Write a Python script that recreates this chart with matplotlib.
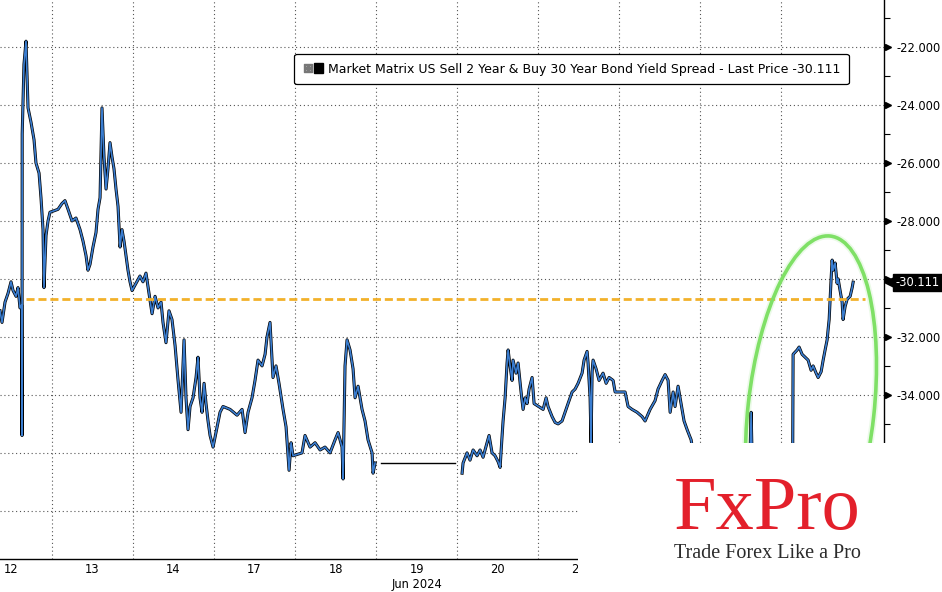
import matplotlib
matplotlib.use("Agg")
import matplotlib.pyplot as plt
import matplotlib.patheffects as pe
from matplotlib.patches import Ellipse, Rectangle, Patch
from matplotlib.lines import Line2D
from matplotlib.legend_handler import HandlerTuple
from matplotlib.transforms import IdentityTransform, blended_transform_factory
import numpy as np

# trading sessions shown on the axis (one unit of x per session)
day_labels = ["12", "13", "14", "17", "18", "19", "20", "21", "24", "25", "26"]
month_label = "Jun 2024"

# session position (session index + fraction of session) / spread, 12-18 Jun
t_a = [0.358, 0.383, 0.42, 0.457, 0.494, 0.519, 0.556, 0.58, 0.605, 0.625, 0.63, 0.632,
       0.654, 0.679, 0.704, 0.741, 0.778, 0.802, 0.84, 0.864, 0.889, 0.901, 0.926, 0.951,
       0.975, 1.074, 1.123, 1.16, 1.198, 1.247, 1.296, 1.346, 1.383, 1.42, 1.444, 1.469,
       1.506, 1.543, 1.568, 1.593, 1.605, 1.617, 1.642, 1.667, 1.691, 1.716, 1.741, 1.765,
       1.79, 1.815, 1.84, 1.864, 1.889, 1.914, 1.938, 1.963, 1.988,
       2.086, 2.123, 2.16, 2.198, 2.235, 2.272, 2.309, 2.346, 2.37, 2.407, 2.444, 2.481,
       2.519, 2.556, 2.593, 2.63, 2.654, 2.679, 2.704, 2.741, 2.778, 2.802, 2.827, 2.852,
       2.877, 2.901, 2.926, 2.951, 2.988,
       3.074, 3.111, 3.198, 3.284, 3.346, 3.383, 3.42, 3.469, 3.506, 3.543, 3.593, 3.63,
       3.654, 3.691, 3.728, 3.765, 3.802, 3.852, 3.889, 3.926, 3.951, 3.975,
       4.086, 4.123, 4.185, 4.247, 4.309, 4.37, 4.432, 4.494, 4.531, 4.58, 4.593, 4.617,
       4.642, 4.679, 4.716, 4.741, 4.778, 4.827, 4.864, 4.901, 4.951, 4.963, 4.988]
v_a = [-31.1, -31.5, -30.8, -30.5, -30.1, -30.4, -30.6, -30.3, -31.0, -30.9, -35.4, -25.0,
       -22.6, -21.8, -24.1, -24.6, -25.2, -26.0, -26.35, -27.2, -28.3, -30.3, -28.5, -28.0,
       -27.7, -27.6, -27.4, -27.3, -27.6, -28.0, -27.9, -28.3, -28.7, -29.2, -29.7, -29.5,
       -28.9, -28.4, -27.6, -27.2, -25.6, -24.1, -25.8, -26.9, -26.2, -25.3, -25.8, -26.2,
       -26.9, -27.5, -28.9, -28.3, -28.7, -29.2, -29.7, -30.1, -30.4,
       -29.9, -30.1, -29.8, -30.5, -31.2, -30.6, -31.0, -30.8, -31.5, -32.2, -31.1, -31.4,
       -32.3, -33.5, -34.6, -32.1, -34.1, -35.2, -34.4, -34.1, -33.4, -32.7, -34.1, -34.6,
       -33.6, -34.3, -34.9, -35.4, -35.8,
       -34.6, -34.4, -34.5, -34.7, -34.5, -35.3, -34.6, -34.1, -33.5, -32.8, -33.0, -32.6,
       -32.0, -31.5, -33.4, -33.0, -33.6, -34.5, -35.1, -36.6, -35.65, -36.1,
       -36.0, -35.4, -35.8, -35.65, -35.9, -35.8, -36.0, -35.55, -35.3, -35.8, -36.9, -33.0,
       -32.1, -32.45, -33.1, -34.1, -33.7, -34.5, -34.9, -35.55, -36.0, -36.7, -36.35]

# 20-26 Jun
t_b = [6.062, 6.074, 6.123, 6.16, 6.198, 6.247, 6.284, 6.321, 6.37, 6.395, 6.432, 6.469,
       6.506, 6.531, 6.556, 6.568, 6.593, 6.617, 6.63, 6.654, 6.679, 6.691, 6.728, 6.753,
       6.79, 6.815, 6.84, 6.864, 6.889, 6.926, 6.951,
       7.062, 7.099, 7.123, 7.173, 7.21, 7.247, 7.296, 7.333, 7.37, 7.42, 7.457, 7.494,
       7.543, 7.568, 7.605, 7.617, 7.642, 7.654, 7.667, 7.679, 7.716, 7.753, 7.802, 7.84,
       7.877, 7.926, 7.951,
       8.074, 8.111, 8.16, 8.222, 8.284, 8.321, 8.383, 8.444, 8.481, 8.531, 8.568, 8.605,
       8.63, 8.667, 8.691, 8.728, 8.765, 8.802, 8.84, 8.889, 8.926, 8.975,
       9.062, 9.185, 9.309, 9.432, 9.556, 9.617, 9.63, 9.642, 9.741, 9.864, 9.963,
       10.14, 10.148, 10.198, 10.222, 10.259, 10.296, 10.333, 10.37, 10.395, 10.432, 10.457,
       10.494, 10.519, 10.543, 10.568, 10.58, 10.593, 10.605, 10.617, 10.63, 10.642, 10.667,
       10.691, 10.704, 10.728, 10.753, 10.765, 10.79, 10.815, 10.852, 10.877, 10.889]
v_b = [-36.7, -36.35, -36.0, -36.25, -35.9, -36.1, -35.9, -36.15, -35.65, -35.4, -36.0, -36.1,
       -36.3, -36.5, -35.4, -34.9, -34.1, -32.9, -32.45, -33.0, -33.5, -32.8, -33.25, -32.9,
       -33.9, -34.5, -34.1, -34.3, -33.8, -33.4, -34.3,
       -34.5, -34.1, -34.4, -34.75, -34.95, -35.0, -34.9, -34.6, -34.3, -33.9, -33.8, -33.6,
       -33.25, -32.8, -32.5, -32.9, -34.1, -35.65, -33.2, -32.8, -33.1, -33.5, -33.25, -33.6,
       -33.4, -33.5, -33.9,
       -33.9, -34.4, -34.5, -34.6, -34.75, -34.9, -34.5, -34.2, -33.8, -33.5, -33.3, -33.5,
       -34.6, -33.9, -34.4, -33.7, -34.3, -34.9, -35.2, -35.55, -36.2, -36.6,
       -36.8, -37.2, -37.0, -36.6, -36.4, -36.0, -34.6, -36.2, -36.6, -37.0, -37.3,
       -38.0, -32.6, -32.45, -32.35, -32.6, -32.7, -32.8, -33.15, -33.0, -33.25, -33.4,
       -33.2, -32.8, -32.45, -32.1, -31.75, -31.4, -30.7, -30.0, -29.35, -29.7, -29.45,
       -30.15, -30.0, -30.4, -30.8, -31.4, -30.95, -30.7, -30.6, -30.3, -30.111]

# 19 Jun holiday: flat print
holiday_t = [5.06, 5.975]
holiday_v = [-36.35, -36.35]

last_price = -30.111
ref_level = -30.7
ref_span = [0.68, 11.04]

legend_text = ("Market Matrix US Sell 2 Year & Buy 30 Year Bond Yield Spread"
               " - Last Price -30.111")

fig = plt.figure(figsize=(9.42, 5.92), dpi=100)
ax = fig.add_axes([0, 33 / 592, 884 / 942, 559 / 592])
ax.set_xlim(0.358, 11.27)
ax.set_ylim(-39.66, -20.38)

blue = "#3a7dd0"
outline = [pe.Stroke(linewidth=2.2, foreground="black"), pe.Normal()]
ax.plot(t_a, v_a, color=blue, lw=1.2, zorder=3, path_effects=outline)
ax.plot(t_b, v_b, color=blue, lw=1.2, zorder=3, path_effects=outline)
ax.plot(holiday_t, holiday_v, color="black", lw=1.0, zorder=3)

ax.hlines(ref_level, ref_span[0], ref_span[1], colors="#f2b12a", lw=2.0,
          linestyles=(0, (2.9, 1.4)), zorder=4)

# axes / grid
ax.set_xticks(np.arange(1, len(day_labels)))
ax.set_xticklabels([])
ax.set_xticks(np.arange(len(day_labels)) + 0.5, minor=True)
ax.set_xticklabels(day_labels, minor=True, fontsize=8.3)
ax.tick_params(axis="x", which="both", length=0, pad=3)

ax.yaxis.tick_right()
yt = np.arange(-38, -21, 2)
ax.set_yticks(yt)
ax.set_yticklabels([f"{v:.3f}" for v in yt], fontsize=8.3)
ax.set_yticks(np.arange(-39, -20, 2), minor=True)
ax.tick_params(axis="y", which="major", length=0, pad=9)
ax.tick_params(axis="y", which="minor", length=4, width=0.8, direction="out")
ax.grid(which="major", color="#555555", lw=0.8, ls=(0, (1, 2.5)))

for s in ["left", "top"]:
    ax.spines[s].set_visible(False)
for s in ["right", "bottom"]:
    ax.spines[s].set_color("black")
    ax.spines[s].set_linewidth(1.0)

trans_y = blended_transform_factory(ax.transAxes, ax.transData)
ax.plot(np.full(len(yt), 1.004), yt, ls="", marker=">", ms=4.5, color="black",
        transform=trans_y, clip_on=False)

# last price tag
ax.plot([1.006], [last_price], ls="", marker="<", ms=7, color="black",
        transform=trans_y, clip_on=False, zorder=6)
ax.text(1.013, last_price, f"{last_price:.3f}", transform=trans_y, color="white",
        fontsize=8.3, va="center", ha="left", zorder=6,
        bbox=dict(boxstyle="square,pad=0.18", fc="black", ec="black"))

trans_x = blended_transform_factory(ax.transData, ax.transAxes)
ax.text(5.5, -0.045, month_label, transform=trans_x, ha="center", va="center",
        fontsize=8.3)

# legend
boxplus = Line2D([], [], ls="", marker=r"$\boxplus$", ms=6, color="#777777")
square = Patch(fc="black", ec="black")
leg = ax.legend(handles=[(boxplus, square)], labels=[legend_text],
                handler_map={tuple: HandlerTuple(ndivide=None, pad=0.2)},
                loc="upper left", bbox_to_anchor=(0.326, 0.915), fontsize=9.0,
                handlelength=1.6, handleheight=0.85, handletextpad=0.35, borderpad=0.7,
                fancybox=True, framealpha=1, edgecolor="black")
leg.get_frame().set_linewidth(0.9)
leg.set_zorder(7)

# green highlight ellipse (drawn in pixel space)
for lw, a in [(5, 0.15), (2.6, 1.0)]:
    ax.add_patch(Ellipse((811, 182), width=126, height=350, angle=-6.3,
                         transform=IdentityTransform(), fill=False,
                         ec="#7fe066", lw=lw, alpha=a, zorder=5))

# watermark block
fig.add_artist(Rectangle((578 / 942, 0), 1 - 578 / 942, 149 / 592,
                         transform=fig.transFigure, fc="white", ec="none", zorder=10))
fig.text(767 / 942, 63 / 592, "FxPro", family="Liberation Serif", color="#e3202b",
         fontsize=55, ha="center", va="baseline", zorder=11)
fig.text(767 / 942, 34 / 592, "Trade Forex Like a Pro", family="Liberation Serif",
         color="#2b2b2b", fontsize=14.5, ha="center", va="baseline", zorder=11)

fig.savefig("out.png", dpi=100)
